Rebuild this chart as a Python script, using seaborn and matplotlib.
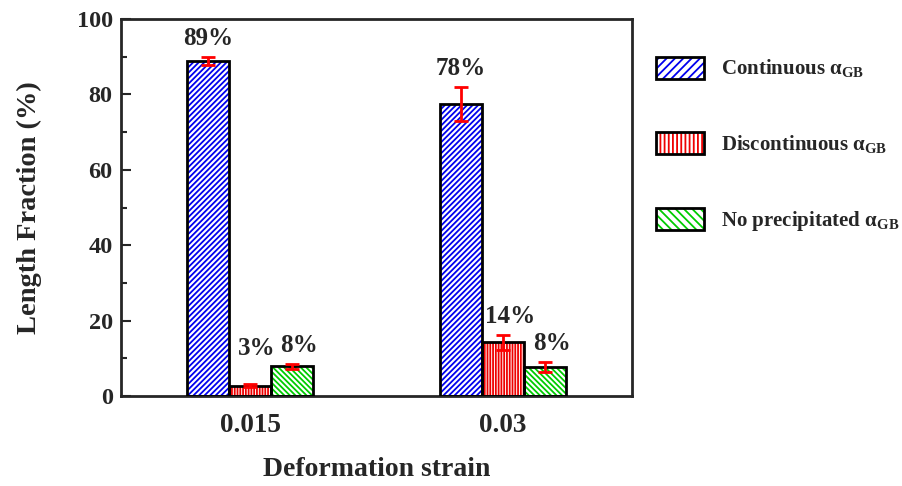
import numpy as np
import pandas as pd
import matplotlib.pyplot as plt
import seaborn as sns
from matplotlib.patches import Rectangle
from matplotlib.legend_handler import HandlerTuple
from matplotlib.ticker import MultipleLocator

# data
strains = ["0.015", "0.03"]
types = ["Continuous", "Discontinuous", "No precipitated"]
continuous = [88.9, 77.5]
discontinuous = [2.8, 14.3]
no_precip = [7.9, 7.8]
err_cont = [1.0, 4.5]
err_disc = [0.5, 2.0]
err_none = [0.7, 1.3]
labels_cont = ["89%", "78%"]
labels_disc = ["3%", "14%"]
labels_none = ["8%", "8%"]

colors = ["#0000ee", "#ee0000", "#00cc00"]
hatches = ["//////", "||||||", "\\\\\\\\\\\\"]
legend_names = [r"Continuous α$_{\mathbf{GB}}$",
                r"Discontinuous α$_{\mathbf{GB}}$",
                r"No precipitated α$_{\mathbf{GB}}$"]

df = pd.DataFrame({
    "strain": strains * 3,
    "type": [t for t in types for _ in strains],
    "value": continuous + discontinuous + no_precip,
    "err": err_cont + err_disc + err_none,
    "label": labels_cont + labels_disc + labels_none,
})

sns.set_style("ticks")
plt.rcParams["font.family"] = ["Liberation Serif", "DejaVu Serif"]
plt.rcParams["font.weight"] = "bold"
plt.rcParams["mathtext.fontset"] = "custom"
plt.rcParams["mathtext.rm"] = "Liberation Serif:bold"
plt.rcParams["mathtext.bf"] = "Liberation Serif:bold"
plt.rcParams["hatch.linewidth"] = 1.3

fig = plt.figure(figsize=(9.03, 4.86), dpi=100)
ax = fig.add_axes([0.134, 0.185, 0.566, 0.776])

sns.barplot(data=df, x="strain", y="value", hue="type", hue_order=types,
            order=strains, width=0.5, errorbar=None, ax=ax, legend=False)

# style each bar: coloured hatch, black outline, red error bar
for i, t in enumerate(types):
    cont = ax.containers[i]
    sub = df[df["type"] == t].set_index("strain").loc[strains]
    for bar, v, e, lab in zip(cont, sub["value"], sub["err"], sub["label"]):
        bar.set_facecolor("white")
        bar.set_edgecolor(colors[i])
        bar.set_hatch(hatches[i])
        bar.set_linewidth(0)
        ax.add_patch(Rectangle(bar.get_xy(), bar.get_width(), bar.get_height(),
                               fill=False, edgecolor="black", lw=2, zorder=3))
        cx = bar.get_x() + bar.get_width() / 2
        ax.errorbar(cx, v, yerr=e, color="red", capsize=5, capthick=2,
                    elinewidth=2, zorder=4)
        pad = 17 if lab == "3%" else 5
        ax.annotate(lab, (cx, v + e), xytext=(5 if i > 0 else 0, pad),
                    textcoords="offset points", ha="center", va="bottom",
                    fontsize=18, fontweight="bold")

ax.set_xlim(-0.51, 1.51)
ax.set_ylim(0, 100)
ax.yaxis.set_major_locator(MultipleLocator(20))
ax.yaxis.set_minor_locator(MultipleLocator(10))
ax.tick_params(axis="y", which="major", direction="in", length=7, width=1.5,
               labelsize=17.5, right=False, pad=6)
ax.tick_params(axis="y", which="minor", direction="in", length=4, width=1.5)
ax.tick_params(axis="x", length=0, labelsize=19.5, pad=12)
for lab in ax.get_xticklabels() + ax.get_yticklabels():
    lab.set_fontweight("bold")
for s in ax.spines.values():
    s.set_linewidth(2)
ax.set_xlabel("Deformation strain", fontsize=20, fontweight="bold", labelpad=14)
ax.set_ylabel("Length Fraction (%)", fontsize=20.5, fontweight="bold", labelpad=25)

# legend with two-layer handles
handles = []
for c, h in zip(colors, hatches):
    fillp = Rectangle((0, 0), 1, 1, facecolor="white", edgecolor=c, hatch=h[:4], lw=0)
    outline = Rectangle((0, 0), 1, 1, fill=False, edgecolor="black", lw=2)
    handles.append((fillp, outline))
ax.legend(handles, legend_names, handler_map={tuple: HandlerTuple(ndivide=1, pad=0)},
          loc="upper left", bbox_to_anchor=(1.01, 0.95), frameon=False,
          handlelength=2.3, handleheight=1.25, labelspacing=2.5, handletextpad=0.8,
          prop={"size": 15, "weight": "bold"})

fig.savefig("out.png", dpi=100)
